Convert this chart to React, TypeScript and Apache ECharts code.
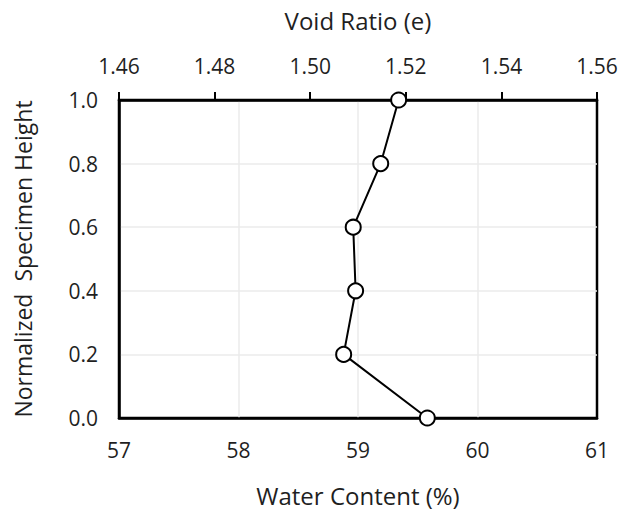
import React, { useEffect, useRef } from "react";
import * as echarts from "echarts";

const waterContent = [59.34, 59.19, 58.96, 58.98, 58.88, 59.58];
const heights = [1.0, 0.8, 0.6, 0.4, 0.2, 0.0];
const bottomTitle = "Water Content (%)";
const topTitle = "Void Ratio (e)";
const leftTitle = "Normalized  Specimen Height";

const FONT = "'Open Sans', 'Noto Sans', sans-serif";

export default function App() {
  const ref = useRef<HTMLDivElement>(null);
  useEffect(() => {
    document.body.style.margin = "0";
    const chart = echarts.init(ref.current!, null, { renderer: "svg" });
    const labelStyle = { fontSize: 21, color: "#1f1f1f", fontFamily: FONT };
    const nameStyle = { fontSize: 24, color: "#1f1f1f", fontFamily: FONT };
    const split = { show: true, showMinLine: false, showMaxLine: false, lineStyle: { color: "#ebebeb", width: 1.5 } };
    chart.setOption({
      animation: false,
      backgroundColor: "#ffffff",
      grid: {
        left: 119,
        right: 21,
        top: 100,
        bottom: 95,
        containLabel: false,
        outerBoundsMode: "none",
        show: true,
        borderColor: "#000",
        borderWidth: 2.5,
        backgroundColor: "transparent",
      },
      xAxis: [
        {
          type: "value",
          position: "bottom",
          min: 57,
          max: 61,
          interval: 1,
          name: bottomTitle,
          nameLocation: "middle",
          nameGap: 65,
          nameTextStyle: nameStyle,
          axisLine: { show: true, lineStyle: { color: "#000", width: 2.5 } },
          axisTick: { show: false },
          axisLabel: { ...labelStyle, margin: 21 },
          splitLine: split,
        },
        {
          type: "value",
          position: "top",
          min: 1.46,
          max: 1.56,
          interval: 0.02,
          name: topTitle,
          nameLocation: "middle",
          nameGap: 68,
          nameTextStyle: nameStyle,
          axisLine: { show: true, lineStyle: { color: "#000", width: 2.5 } },
          axisTick: { show: true, inside: false, length: 8, lineStyle: { color: "#000", width: 2 } },
          axisLabel: { ...labelStyle, margin: 24, formatter: (v: number) => v.toFixed(2) },
          splitLine: { show: false },
        },
      ],
      yAxis: {
        type: "value",
        min: 0,
        max: 1,
        interval: 0.2,
        name: leftTitle,
        nameLocation: "middle",
        nameGap: 85,
        nameTextStyle: { ...nameStyle, fontSize: 23 },
        axisLine: { show: true, lineStyle: { color: "#000", width: 2.5 } },
        axisTick: { show: false },
        axisLabel: { ...labelStyle, margin: 21, formatter: (v: number) => v.toFixed(1) },
        splitLine: split,
      },
      series: [
        {
          type: "line",
          xAxisIndex: 0,
          data: waterContent.map((w, i) => [w, heights[i]]),
          symbol: "circle",
          symbolSize: 15,
          lineStyle: { color: "#000", width: 2 },
          itemStyle: { color: "#fff", borderColor: "#000", borderWidth: 2 },
          z: 5,
        },
      ],
    });
    return () => chart.dispose();
  }, []);
  return <div ref={ref} style={{ width: 618, height: 513 }} />;
}
